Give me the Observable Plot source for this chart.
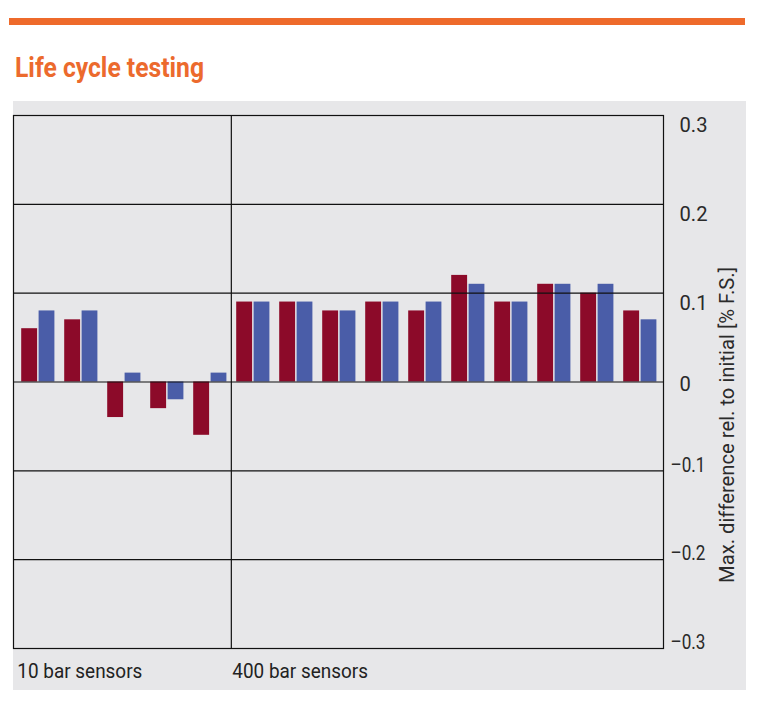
<!DOCTYPE html>
<html><head><meta charset="utf-8">
<script src="https://cdn.jsdelivr.net/npm/d3@7"></script>
<script src="https://cdn.jsdelivr.net/npm/@observablehq/plot@0.6"></script>
<style>
body{margin:0;background:#fff;width:757px;height:703px;position:relative;overflow:hidden;font-family:Roboto,"DejaVu Sans Condensed",sans-serif}
#rule{position:absolute;left:9px;top:18px;width:736px;height:7px;background:#ee6a2b}
#title{position:absolute;left:15px;top:51px;font-size:28px;font-weight:bold;color:#ec6a2d;white-space:nowrap;line-height:34px;transform-origin:0 0}
#panel{position:absolute;left:13px;top:101px;width:733px;height:589px;background:#e7e7e9}
#chart{position:absolute;left:12px;top:101px}
#chart svg{overflow:visible}
</style></head>
<body>
<div id="rule"></div>
<div id="title">Life cycle testing</div>
<div id="panel"></div>
<div id="chart"></div>
<script>
const sensors = ["1","2","3","4","5","6","7","8","9","10","11","12","13","14","15"];
const sensorGroup = ["10 bar sensors","10 bar sensors","10 bar sensors","10 bar sensors","10 bar sensors",
  "400 bar sensors","400 bar sensors","400 bar sensors","400 bar sensors","400 bar sensors",
  "400 bar sensors","400 bar sensors","400 bar sensors","400 bar sensors","400 bar sensors"];
const redValues  = [0.06, 0.07, -0.04, -0.03, -0.06, 0.09, 0.09, 0.08, 0.09, 0.08, 0.12, 0.09, 0.11, 0.10, 0.08];
const blueValues = [0.08, 0.08,  0.01, -0.02,  0.01, 0.09, 0.09, 0.08, 0.09, 0.09, 0.11, 0.09, 0.11, 0.11, 0.07];
const yTicks = [-0.3, -0.2, -0.1, 0, 0.1, 0.2, 0.3];
const groupLabels = ["10 bar sensors", "400 bar sensors"];
const yLabel = "Max. difference rel. to initial [% F.S.]";

const data = sensors.map((s, i) => ({sensor: s, group: sensorGroup[i], red: redValues[i], blue: blueValues[i]}));
const groupStarts = groupLabels.map(g => ({label: g, first: data.find(d => d.group === g).sensor}));
const fmt = v => v === 0 ? "0" : (v < 0 ? "\u2013" : "") + Math.abs(v).toFixed(1);

const W = 733, H = 589, mL = 1, mR = 82, mT = 14, mB = 42;
const bw = (W - mL - mR) / sensors.length;
const RED = "#8c0a29", BLUE = "#4a5da8", INK = "#111";
const font = "Roboto,\"DejaVu Sans Condensed\",sans-serif";

const chart = Plot.plot({
  width: W, height: H,
  marginLeft: mL, marginRight: mR, marginTop: mT, marginBottom: mB,
  style: {background: "transparent", fontFamily: font, overflow: "visible"},
  x: {type: "band", domain: sensors, padding: 0, axis: null},
  y: {domain: [-0.3, 0.3], axis: null},
  marks: [
    Plot.barY(data, {x: "sensor", y: "red", fill: RED, insetLeft: 5.2, insetRight: 21.9}),
    Plot.barY(data, {x: "sensor", y: "blue", fill: BLUE, insetLeft: 22.6, insetRight: 4.6}),
    Plot.ruleY(yTicks.filter(v => Math.abs(v) < 0.3), {stroke: INK, strokeWidth: 1.2}),
    Plot.ruleX(groupStarts.slice(1), {x: "first", stroke: INK, strokeWidth: 1.2, dx: -bw / 2}),
    Plot.frame({stroke: INK, strokeWidth: 1.2}),
    Plot.text(yTicks.filter(v => v > 0), {y: d => d, text: fmt, frameAnchor: "right", textAnchor: "start", lineAnchor: "middle", dx: 16, dy: 10, fontSize: 21, fill: "#2a2a2a"}),
    Plot.text(yTicks.filter(v => v === 0), {y: d => d, text: fmt, frameAnchor: "right", textAnchor: "start", lineAnchor: "middle", dx: 16, dy: 2, fontSize: 21, fill: "#2a2a2a"}),
    Plot.text(yTicks.filter(v => v < 0), {y: d => d, text: fmt, frameAnchor: "right", textAnchor: "start", lineAnchor: "middle", dx: 7, dy: -6, fontSize: 21, fill: "#2a2a2a"}),
    Plot.text([yLabel], {text: d => d, frameAnchor: "right", rotate: -90, textAnchor: "middle", lineAnchor: "middle", dx: 64, dy: 43, fontSize: 21, fill: "#2a2a2a"}),
    Plot.text(groupStarts, {x: "first", text: "label", frameAnchor: "bottom", textAnchor: "start", lineAnchor: "bottom", dx: -bw / 2 + 1, dy: 29, fontSize: 21, fill: "#222"})
  ]
});
document.getElementById("chart").appendChild(chart);

// condense the glyphs to match the narrow typeface of the original
const texts = Array.from(chart.querySelectorAll("text"));
const natural = s => { const t = texts.find(e => e.textContent === s); return t ? t.getComputedTextLength() : 1; };
const kTick = 28 / natural("0.3");
const kNeg = 35 / natural(fmt(-0.1));
const kLabel = 316 / natural(yLabel);
const kGroup = 125 / natural(groupLabels[0]);
const posStrings = yTicks.filter(v => v >= 0).map(fmt);
const negStrings = yTicks.filter(v => v < 0).map(fmt);
for (const t of texts) {
  const s = t.textContent;
  const k = posStrings.includes(s) ? kTick : negStrings.includes(s) ? kNeg : s === yLabel ? kLabel : groupLabels.includes(s) ? kGroup : 1;
  if (k !== 1) {
    t.setAttribute("textLength", (t.getComputedTextLength() * k).toFixed(2));
    t.setAttribute("lengthAdjust", "spacingAndGlyphs");
  }
}
const title = document.getElementById("title");
title.style.transform = `scaleX(${189 / title.getBoundingClientRect().width})`;
</script>
</body></html>
